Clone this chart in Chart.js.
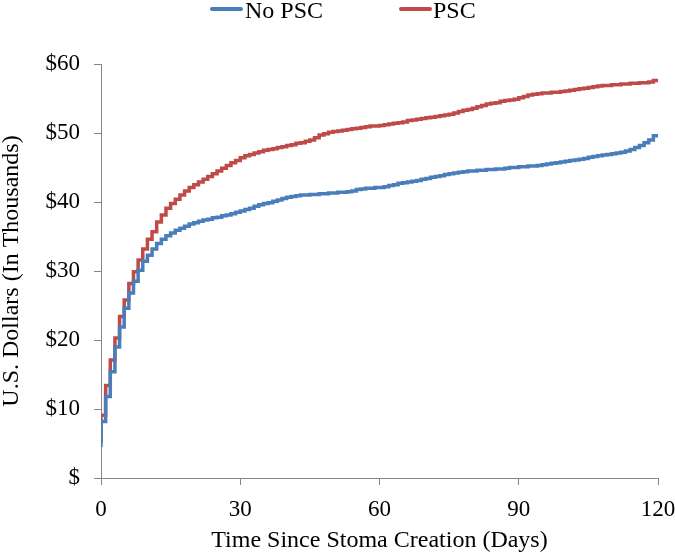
<!DOCTYPE html>
<html>
<head>
<meta charset="utf-8">
<script src="https://cdn.jsdelivr.net/npm/chart.js@4/dist/chart.umd.min.js"></script>
<style>
  html, body { margin: 0; padding: 0; background: #fff; }
  #wrap { position: relative; width: 675px; height: 555px; }
  #legend { position: absolute; left: 0; top: -2px; width: 675px; height: 30px;
            font-family: 'Liberation Serif', 'DejaVu Serif', serif; font-size: 24px;
            line-height: 24px; color: #000; }
  .swatch { position: absolute; top: 9px; width: 33px; height: 4px; border-radius: 2px; }
  .lbl { position: absolute; top: 0; white-space: nowrap; }
</style>
</head>
<body>
<div id="wrap">
  <canvas id="costChart" width="675" height="555"></canvas>
  <div id="legend"></div>
</div>
<script>
// Cumulative cost per day (in thousands of dollars), day 0..120
const days = [];
for (let d = 0; d <= 120; d++) days.push(d);

const noPsc = [
  4.5, 8.2, 11.8, 15.4, 19.0, 21.9, 24.6, 26.8, 28.5, 30.1,
  31.4, 32.3, 33.2, 34.0, 34.6, 35.1, 35.5, 35.9, 36.2, 36.5,
  36.8, 37.0, 37.2, 37.4, 37.5, 37.7, 37.8, 38.0, 38.1, 38.3,
  38.5, 38.7, 38.9, 39.1, 39.4, 39.6, 39.8, 39.9, 40.1, 40.3,
  40.5, 40.7, 40.8, 40.9, 41.0, 41.0, 41.1, 41.1, 41.2, 41.2,
  41.3, 41.3, 41.4, 41.4, 41.5, 41.6, 41.8, 41.9, 42.0, 42.0,
  42.1, 42.1, 42.2, 42.4, 42.5, 42.7, 42.8, 42.9, 43.0, 43.1,
  43.3, 43.4, 43.6, 43.7, 43.8, 44.0, 44.1, 44.2, 44.3, 44.4,
  44.5, 44.5, 44.6, 44.6, 44.7, 44.7, 44.8, 44.8, 44.9, 45.0,
  45.0, 45.1, 45.1, 45.2, 45.2, 45.3, 45.4, 45.5, 45.6, 45.7,
  45.8, 45.9, 46.0, 46.1, 46.2, 46.3, 46.5, 46.6, 46.7, 46.8,
  46.9, 47.0, 47.1, 47.2, 47.4, 47.6, 47.9, 48.2, 48.6, 49.0,
  49.6
];

const psc = [
  5.1, 9.1, 13.4, 17.1, 20.3, 23.4, 25.8, 28.2, 29.9, 31.6,
  33.2, 34.6, 35.7, 37.1, 38.1, 39.1, 39.8, 40.4, 41.0, 41.6,
  42.1, 42.5, 42.9, 43.3, 43.7, 44.1, 44.5, 44.9, 45.3, 45.7,
  46.0, 46.4, 46.7, 46.9, 47.1, 47.3, 47.5, 47.6, 47.7, 47.9,
  48.0, 48.2, 48.3, 48.5, 48.6, 48.8, 49.0, 49.3, 49.7, 49.9,
  50.1, 50.2, 50.3, 50.4, 50.5, 50.6, 50.7, 50.8, 50.9, 51.0,
  51.0, 51.1, 51.2, 51.3, 51.4, 51.5, 51.6, 51.8, 51.9, 52.0,
  52.1, 52.2, 52.3, 52.4, 52.5, 52.6, 52.7, 52.9, 53.1, 53.3,
  53.4, 53.6, 53.8, 54.0, 54.2, 54.3, 54.4, 54.6, 54.7, 54.8,
  54.9, 55.1, 55.3, 55.5, 55.6, 55.7, 55.8, 55.8, 55.9, 55.9,
  56.0, 56.1, 56.2, 56.3, 56.4, 56.5, 56.6, 56.7, 56.8, 56.9,
  56.9, 57.0, 57.0, 57.1, 57.1, 57.2, 57.2, 57.3, 57.3, 57.4,
  57.6
];

const seriesNames = ['No PSC', 'PSC'];
const seriesColors = ['#4A7EBB', '#BE4B48'];
const xTicks = [0, 30, 60, 90, 120];
const yTicks = [0, 10, 20, 30, 40, 50, 60];

const FONT = "'Liberation Serif', 'DejaVu Serif', serif";
const AXIS_GREY = '#868686';

function toPoints(vals) {
  return days.map((d, i) => ({ x: d, y: vals[i] }));
}

// legend above the plot, laid out like the original
const legendPos = [{ swatch: 210, text: 245 }, { swatch: 399, text: 433 }];
const legendEl = document.getElementById('legend');
seriesNames.forEach((name, i) => {
  const sw = document.createElement('div');
  sw.className = 'swatch';
  sw.style.left = legendPos[i].swatch + 'px';
  sw.style.background = seriesColors[i];
  const tx = document.createElement('div');
  tx.className = 'lbl';
  tx.style.left = legendPos[i].text + 'px';
  tx.textContent = name;
  legendEl.appendChild(sw);
  legendEl.appendChild(tx);
});

const ctx = document.getElementById('costChart');
new Chart(ctx, {
  type: 'line',
  data: {
    datasets: [noPsc, psc].map((vals, i) => ({
      label: seriesNames[i],
      data: toPoints(vals),
      borderColor: seriesColors[i],
      backgroundColor: seriesColors[i],
      borderWidth: 3.5,
      stepped: 'after',
      pointRadius: 0
    }))
  },
  options: {
    responsive: false,
    animation: false,
    layout: { padding: { top: 64, right: 17, left: 0, bottom: 0 } },
    plugins: {
      tooltip: { enabled: false },
      legend: { display: false }
    },
    scales: {
      x: {
        type: 'linear',
        min: 0,
        max: 120,
        afterBuildTicks: (axis) => { axis.ticks = xTicks.map(v => ({ value: v })); },
        afterFit: (axis) => {
          axis.height = 77;
          axis.paddingLeft = 0;
          axis.paddingRight = 0;
        },
        ticks: {
          font: { family: FONT, size: 23 },
          color: '#000',
          padding: 11
        },
        grid: { drawOnChartArea: false, drawTicks: true, tickLength: 7, color: AXIS_GREY },
        border: { color: AXIS_GREY, width: 1 },
        title: {
          display: true,
          text: 'Time Since Stoma Creation (Days)',
          font: { family: FONT, size: 24, lineHeight: 1 },
          color: '#000',
          padding: { top: 0, bottom: 2 }
        }
      },
      y: {
        min: 0,
        max: 60,
        afterBuildTicks: (axis) => { axis.ticks = yTicks.map(v => ({ value: v })); },
        afterFit: (axis) => { axis.width = 101; },
        ticks: {
          font: { family: FONT, size: 23 },
          color: '#000',
          padding: 14,
          callback: (v) => v === 0 ? '$' : '$' + v
        },
        grid: { drawOnChartArea: false, drawTicks: true, tickLength: 7, color: AXIS_GREY },
        border: { color: AXIS_GREY, width: 1 },
        title: {
          display: true,
          text: 'U.S. Dollars (In Thousands)',
          font: { family: FONT, size: 24, lineHeight: 1 },
          color: '#000',
          padding: { top: 0, bottom: 0 }
        }
      }
    }
  }
});
</script>
</body>
</html>
